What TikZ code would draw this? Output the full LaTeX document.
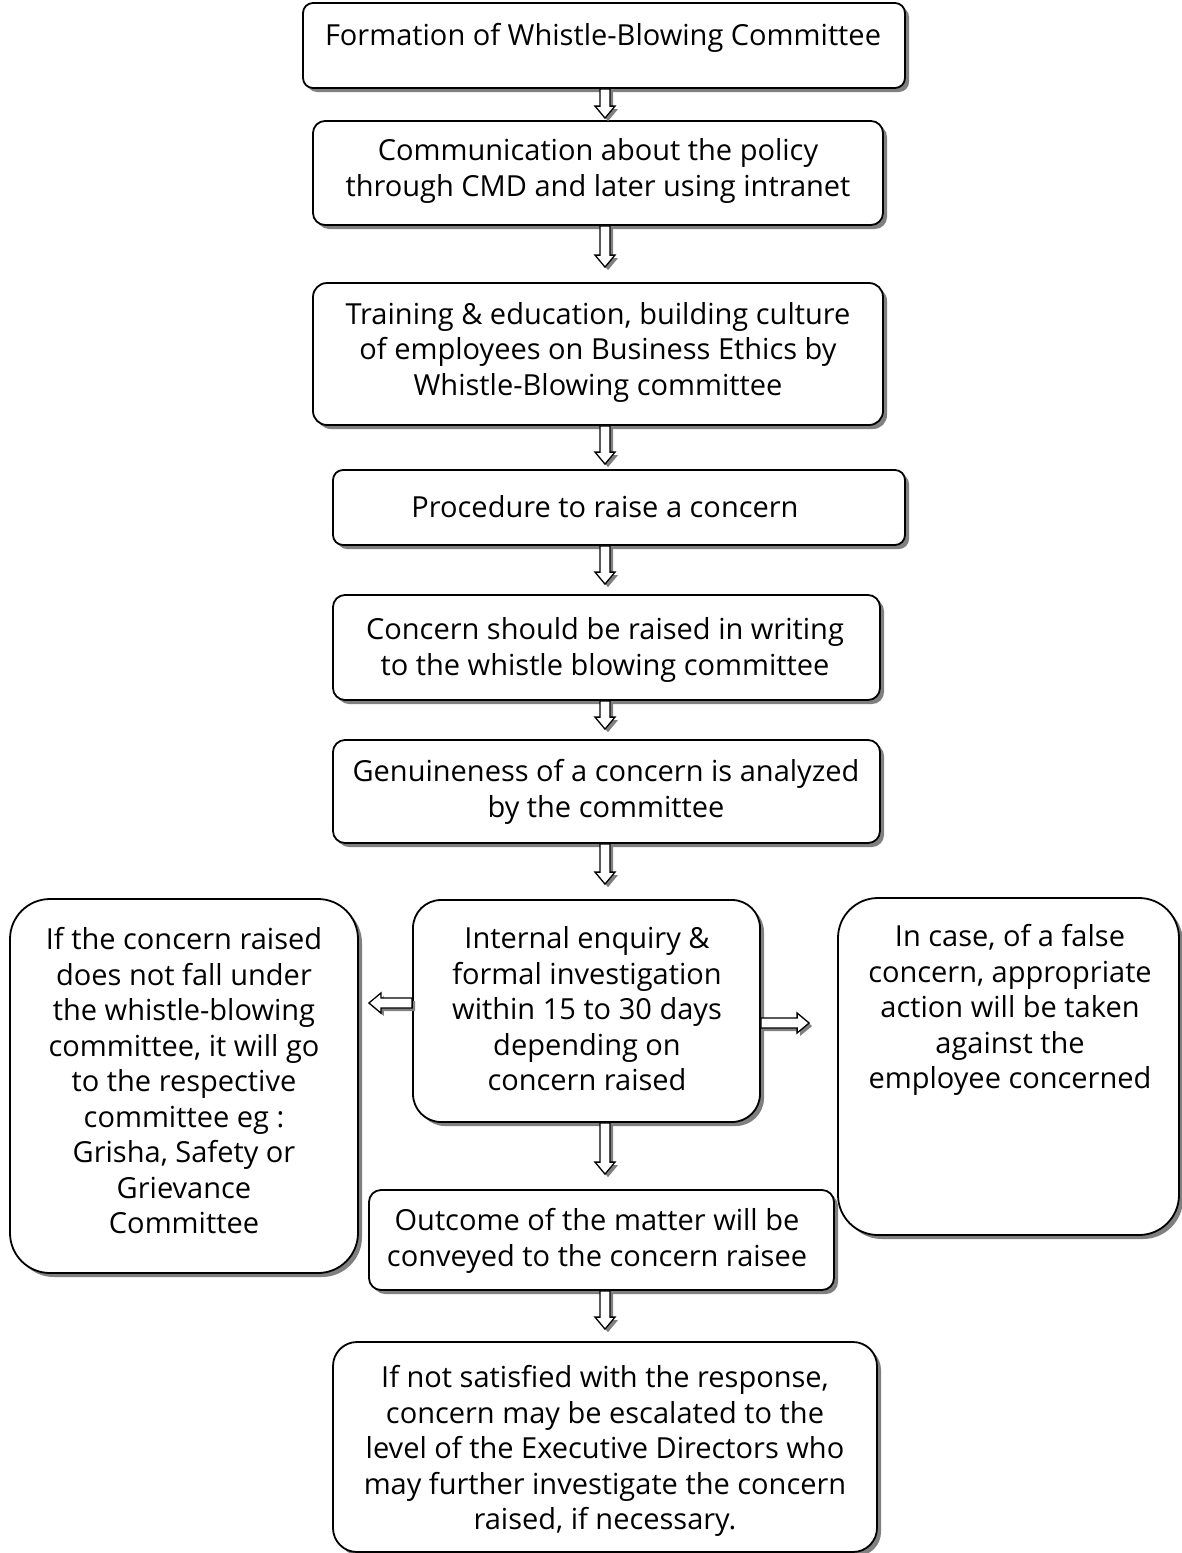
\documentclass[tikz,border=0pt]{standalone}
\usepackage{fontspec}
\setmainfont{Open Sans}
\usetikzlibrary{calc,shadows}
\begin{document}
\begin{tikzpicture}[x=1pt,y=-1pt,
  box/.style={draw=black, line width=1.8pt, fill=white, rectangle, inner sep=0pt,
    drop shadow={shadow xshift=4pt, shadow yshift=-4pt, fill=black!50, opacity=1}},
  txt/.style={align=center, font=\fontsize{29}{35.5}\selectfont, inner sep=0pt},
  harrow/.style={draw=black, fill=white, line width=1.3pt, line join=miter,
    drop shadow={shadow xshift=3pt, shadow yshift=-3pt, fill=black!50, opacity=1},
    to path={let \p1=(\tikztostart), \p4=(\tikztotarget),
      \p2=($(\p4)!#1!(\p1)$), \p3=($(\p2)!12pt!(\p1)$) in
      ($(\p1)!5pt!90:(\p2)$) -- ($(\p3)!5pt!-90:(\p1)$) -- ($(\p3)!10pt!-90:(\p1)$)
      -- (\p2) -- ($(\p3)!10pt!90:(\p1)$) -- ($(\p3)!5pt!90:(\p1)$)
      -- ($(\p1)!5pt!-90:(\p2)$) -- cycle}}
]
\fill[white] (0,0) rectangle (1181,1553);
\useasboundingbox (0,0) rectangle (1181,1553);

% boxes
\node[box, rounded corners=10pt, minimum width=602, minimum height=85] (b1) at (604,45.5) {};
\node[box, rounded corners=12pt, minimum width=570, minimum height=104] (b2) at (598,173) {};
\node[box, rounded corners=14pt, minimum width=570, minimum height=142] (b3) at (598,354) {};
\node[box, rounded corners=10pt, minimum width=572, minimum height=75] (b4) at (619,507.5) {};
\node[box, rounded corners=12pt, minimum width=547, minimum height=105] (b5) at (606.5,647.5) {};
\node[box, rounded corners=12pt, minimum width=547, minimum height=103] (b6) at (606.5,791.5) {};
\node[box, rounded corners=28pt, minimum width=347, minimum height=222] (b7) at (586.5,1011) {};
\node[box, rounded corners=40pt, minimum width=348, minimum height=374] (bl) at (184,1086) {};
\node[box, rounded corners=40pt, minimum width=341, minimum height=337] (br) at (1008.5,1066.5) {};
\node[box, rounded corners=12pt, minimum width=465, minimum height=100] (b8) at (601.5,1240) {};
\node[box, rounded corners=24pt, minimum width=544, minimum height=210] (b9) at (605,1447) {};

% texts
\node[txt] (t1) at (603,38) {Formation of Whistle-Blowing Committee};
\node[txt] (t2) at (598,171) {Communication about the policy\\through CMD and later using intranet};
\node[txt] (t3) at (598,352) {Training \& education, building culture\\of employees on Business Ethics by\\Whistle-Blowing committee};
\node[txt] (t4) at (605,507) {Procedure to raise a concern};
\node[txt] (t5) at (605,650) {Concern should be raised in writing\\to the whistle blowing committee};
\node[txt] (t6) at (606,792) {Genuineness of a concern is analyzed\\by the committee};
\node[txt] (t7) at (587,1009) {Internal enquiry \&\\formal investigation\\within 15 to 30 days\\depending on\\concern raised};
\node[txt] (tl) at (184,1081) {If the concern raised\\does not fall under\\the whistle-blowing\\committee, it will go\\to the respective\\committee eg :\\Grisha, Safety or\\Grievance\\Committee};
\node[txt] (tr) at (1010,1010) {In case, of a false\\concern, appropriate\\action will be taken\\against the\\employee concerned};
\node[txt] (t8) at (597,1241) {Outcome of the matter will be\\conveyed to the concern raisee};
\node[txt] (t9) at (605,1451) {If not satisfied with the response,\\concern may be escalated to the\\level of the Executive Directors who\\may further investigate the concern\\raised, if necessary.};

% connectors
\coordinate (axis) at (605,0);
\path[harrow=2pt] (b1.south -| axis) to (b2.north -| axis);
\path[harrow=15pt] (b2.south -| axis) to (b3.north -| axis);
\path[harrow=5pt] (b3.south -| axis) to (b4.north -| axis);
\path[harrow=10pt] (b4.south -| axis) to (b5.north -| axis);
\path[harrow=10pt] (b5.south -| axis) to (b6.north -| axis);
\path[harrow=15pt] (b6.south -| axis) to (b7.north -| axis);
\path[harrow=15pt] (b7.south -| axis) to (b8.north -| axis);
\path[harrow=12pt] (b8.south -| axis) to (b9.north -| axis);
\coordinate (lstart) at ([yshift=8pt]b7.west);
\coordinate (rstart) at ([yshift=-12pt]b7.east);
\path[harrow=10pt] (lstart) to (lstart -| bl.east);
\path[harrow=28pt] (rstart) to (rstart -| br.west);
\end{tikzpicture}
\end{document}
